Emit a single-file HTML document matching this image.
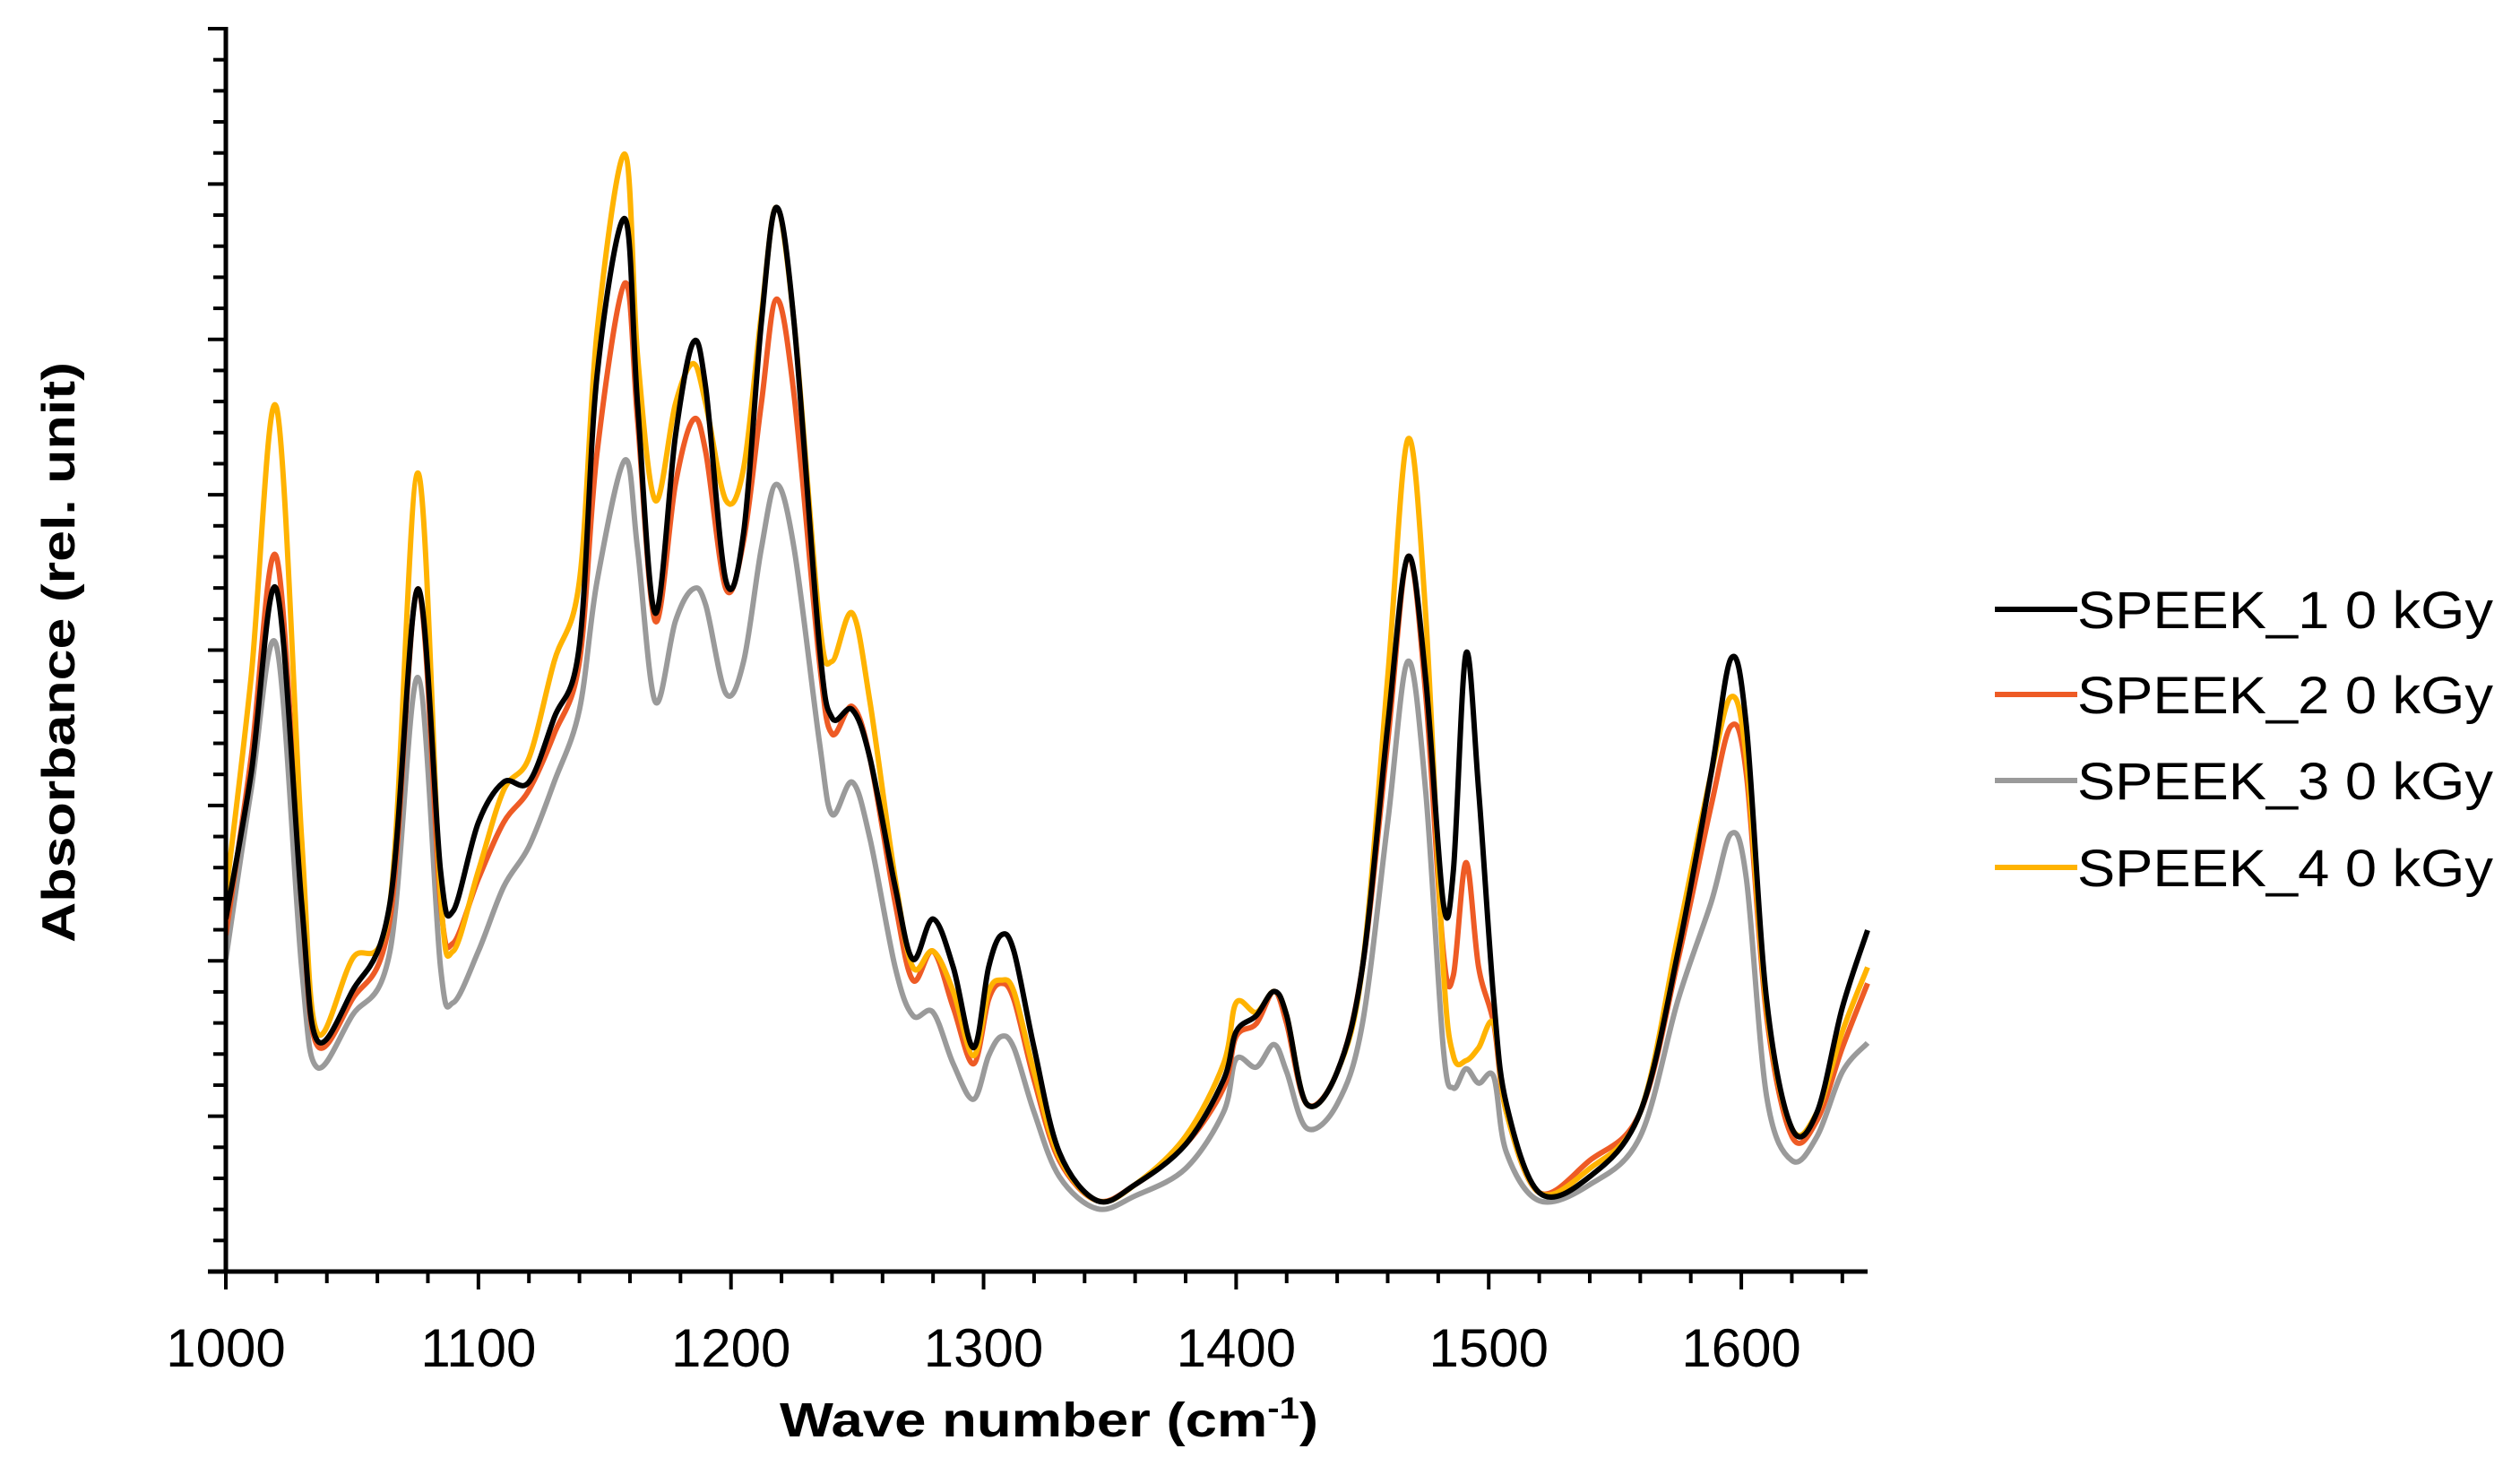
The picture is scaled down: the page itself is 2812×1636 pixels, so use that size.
<!DOCTYPE html>
<html><head><meta charset="utf-8"><style>html,body{margin:0;padding:0;background:#fff}svg{display:block}</style></head>
<body>
<svg id="chart" width="2812" height="1636" xmlns="http://www.w3.org/2000/svg" font-family="'Liberation Sans', sans-serif">
<defs><clipPath id="plotclip"><rect x="252" y="20" width="1840" height="1400"/></clipPath></defs>
<g id="series" clip-path="url(#plotclip)"></g>
<g id="axes"></g>
<text transform="translate(83,728) rotate(-90)" text-anchor="middle" font-weight="bold" font-size="52" textLength="648" lengthAdjust="spacingAndGlyphs">Absorbance (rel. unit)</text>
<text x="870" y="1603" font-weight="bold" font-size="54" textLength="601" lengthAdjust="spacingAndGlyphs">Wave number (cm<tspan font-size="34" dy="-20">-1</tspan><tspan dy="20">)</tspan></text>
<g id="legend"></g>
</svg>
<script>
const wavenumbers=[1000,1010,1020,1030,1036,1050,1065,1076,1085,1090,1100,1110,1120,1130,1140,1147,1158,1163,1170,1178,1185,1190,1198,1205,1212,1218,1225,1235,1240,1248,1255,1265,1272,1280,1288,1296,1302,1307,1312,1320,1330,1345,1360,1380,1395,1400,1408,1415,1420,1428,1440,1450,1460,1468,1475,1482,1486,1491,1496,1502,1507,1520,1540,1560,1575,1588,1596,1602,1610,1620,1630,1640,1650];
const speek1=[219,309,424,229,144,174,229,424,249,224,279,304,304,344,389,557,654,539,409,519,577,549,429,459,589,661,589,389,344,349,319,239,194,219,189,139,189,209,199,139,74,44,54,79,119,149,159,174,159,104,124,189,339,444,369,229,249,384,299,169,104,49,59,99,199,309,381,339,169,89,99,164,212];
const speek2=[209,319,444,229,141,169,219,424,229,204,244,279,299,334,379,509,614,529,404,489,529,509,424,454,539,604,544,379,334,351,319,229,181,199,164,129,169,179,169,119,69,44,54,79,114,146,154,174,154,104,124,189,329,444,359,199,184,254,189,154,99,49,69,99,194,289,339,309,159,84,94,139,179];
const speek3=[194,299,389,189,127,159,199,369,189,167,199,239,264,304,349,429,504,449,354,404,424,414,359,379,449,489,449,329,284,304,269,189,159,161,129,107,134,146,139,99,59,39,47,64,99,132,127,141,124,89,104,154,279,379,299,139,114,126,117,121,74,44,54,84,169,229,272,244,109,69,84,124,142];
const speek4=[234,369,537,269,149,194,229,496,234,199,249,299,319,379,429,584,694,569,479,539,564,539,479,499,594,661,589,404,379,409,354,244,189,199,174,134,174,181,174,124,71,44,54,84,129,167,161,174,159,104,124,189,369,517,409,189,134,131,139,154,99,49,64,99,209,309,357,319,164,89,99,149,189];
const seriesNames=["SPEEK_1 0 kGy","SPEEK_2 0 kGy","SPEEK_3 0 kGy","SPEEK_4 0 kGy"];
const xTicks=[1000,1100,1200,1300,1400,1500,1600];
const X0=252,X1=2084,Y0=1419,Y1=32;
const xMin=1000,xMax=1650,yMin=0,yMax=772;
function xs(w){return X0+(w-xMin)*(X1-X0)/(xMax-xMin);}
function ys(v){return Y0-(v-yMin)*(Y0-Y1)/(yMax-yMin);}
const NS="http://www.w3.org/2000/svg";
function mk(t,a){const e=document.createElementNS(NS,t);for(const k in a)e.setAttribute(k,a[k]);return e;}
const colors=["#000000","#ee5b25","#9a9a9a","#ffb300"];
const data=[speek1,speek2,speek3,speek4];
const sg=document.getElementById('series');
[2,1,3,0].forEach(i=>{
  const p=wavenumbers.map((w,j)=>[xs(w),ys(data[i][j])]);
  let d="M"+p[0][0]+","+p[0][1];
  for(let j=0;j<p.length-1;j++){
    const p0=p[Math.max(0,j-1)],p1=p[j],p2=p[j+1],p3=p[Math.min(p.length-1,j+2)];
    const c1x=p1[0]+(p2[0]-p0[0])/6,c1y=p1[1]+(p2[1]-p0[1])/6;
    const c2x=p2[0]-(p3[0]-p1[0])/6,c2y=p2[1]-(p3[1]-p1[1])/6;
    d+=` C${c1x},${c1y} ${c2x},${c2y} ${p2[0]},${p2[1]}`;
  }
  const path=mk('path',{d:d,fill:'none',stroke:colors[i],'stroke-width':6,'stroke-linejoin':'round'});
  
  
  sg.appendChild(path);
});
const ax=document.getElementById('axes');
const yl=mk('line',{x1:X0,y1:Y1-2,x2:X0,y2:Y0+2,stroke:'#000','stroke-width':5});


ax.appendChild(yl);
const xl=mk('line',{x1:X0-20,y1:Y0,x2:X1,y2:Y0,stroke:'#000','stroke-width':5});


ax.appendChild(xl);
for(let k=0;k<=40;k++){
  const y=Y0-k*(Y0-Y1)/40;
  const t=mk('line',{x1:X0-(k%5==0?20:14),y1:y,x2:X0,y2:y,stroke:'#000','stroke-width':4});
  
  
  ax.appendChild(t);
}
for(let w=xMin;w<=xMax;w+=20){
  const x=xs(w);
  const t=mk('line',{x1:x,y1:Y0,x2:x,y2:Y0+((w%100==0)?20:13),stroke:'#000','stroke-width':4});
  
  
  ax.appendChild(t);
}
xTicks.forEach(w=>{
  const t=mk('text',{x:xs(w),y:1525,'text-anchor':'middle','font-size':60});
  t.textContent=w;
  
  
  ax.appendChild(t);
});
const lg=document.getElementById('legend');
const ly=[680,775,871,968];
seriesNames.forEach((n,i)=>{
  const l=mk('line',{x1:2226,y1:ly[i],x2:2318,y2:ly[i],stroke:colors[i],'stroke-width':6});
  
  
  lg.appendChild(l);
  const t=mk('text',{x:2318,y:ly[i]+21,'font-size':58,textLength:464,lengthAdjust:'spacingAndGlyphs'});
  t.textContent=n;
  
  
  lg.appendChild(t);
});
</script>
</body></html>
